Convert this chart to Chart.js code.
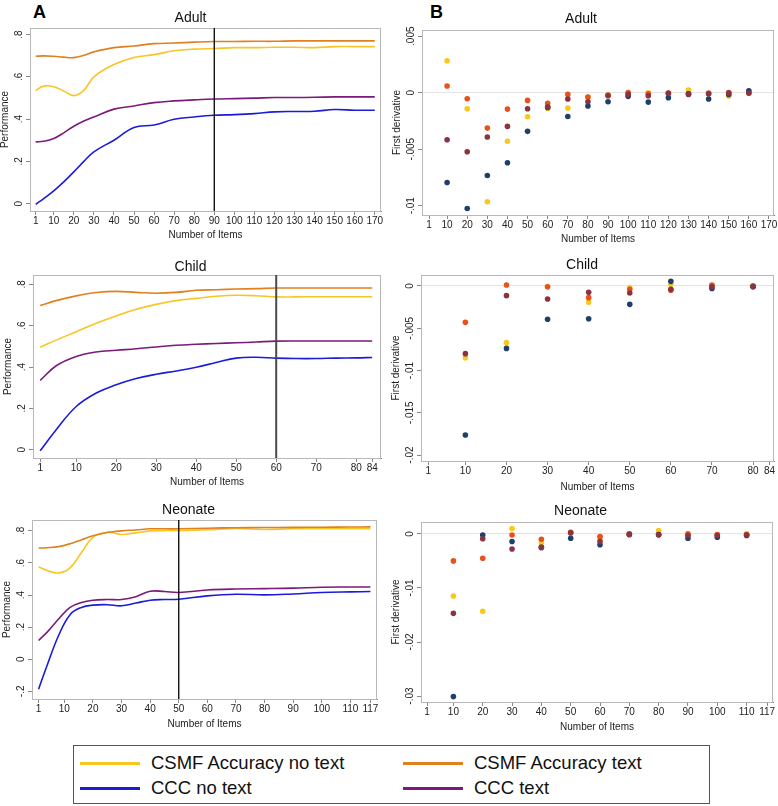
<!DOCTYPE html>
<html>
<head>
  <meta charset="UTF-8">
  <script src="https://cdn.jsdelivr.net/npm/chart.js"></script>
  <title>Performance by number of items</title>
  <style>
    body { margin: 0; background: #fff; font-family: "Liberation Sans", Arial, sans-serif; }
    #wrap { position: relative; width: 778px; height: 806px; overflow: hidden; }
    #wrap canvas { position: absolute; }
    .tag { position: absolute; font-weight: bold; font-size: 18px; line-height: 18px; color: #000; }
    .legend { position: absolute; left: 73px; top: 745px; width: 637px; height: 59px; border: 1px solid #555; box-sizing: border-box; }
    .item { position: absolute; font-size: 18.5px; line-height: 20px; color: #111; white-space: nowrap; }
    .item span { display: inline-block; width: 60px; height: 3px; vertical-align: middle; margin-right: 11px; position: relative; top: -1px; }
  </style>
</head>
<body>
  <div id="wrap">
    <div class="tag" style="left:33px; top:3px">A</div>
    <div class="tag" style="left:430px; top:3px">B</div>
    <canvas id="adultA"></canvas>
    <canvas id="adultB"></canvas>
    <canvas id="childA"></canvas>
    <canvas id="childB"></canvas>
    <canvas id="neonateA"></canvas>
    <canvas id="neonateB"></canvas>
    <div class="legend">
      <div class="item" style="left:6px; top:7px"><span style="background:#f6c623"></span>CSMF Accuracy no text</div>
      <div class="item" style="left:6px; top:32px"><span style="background:#1c1cd8"></span>CCC no text</div>
      <div class="item" style="left:329px; top:7px"><span style="background:#e0801f"></span>CSMF Accuracy text</div>
      <div class="item" style="left:329px; top:32px"><span style="background:#7b1a7b"></span>CCC text</div>
    </div>
  </div>
  <script>
    // ---- panel A: smoothed performance ----
    const adultItems = [1, 5, 10, 15, 20, 25, 30, 40, 50, 60, 70, 80, 90, 100, 110, 120, 130, 140, 150, 160, 170];
    const adultCsmfNoText = [0.536, 0.556, 0.553, 0.533, 0.511, 0.536, 0.600, 0.658, 0.691, 0.705, 0.723, 0.731, 0.734, 0.738, 0.738, 0.740, 0.740, 0.738, 0.743, 0.743, 0.743];
    const adultCsmfText = [0.697, 0.699, 0.697, 0.693, 0.691, 0.702, 0.718, 0.738, 0.746, 0.757, 0.760, 0.764, 0.767, 0.767, 0.768, 0.768, 0.770, 0.770, 0.770, 0.770, 0.770];
    const adultCccNoText = [-0.003, 0.024, 0.060, 0.103, 0.150, 0.200, 0.245, 0.300, 0.360, 0.372, 0.399, 0.410, 0.418, 0.421, 0.426, 0.434, 0.436, 0.437, 0.445, 0.442, 0.442];
    const adultCccText = [0.292, 0.295, 0.308, 0.335, 0.366, 0.391, 0.410, 0.447, 0.462, 0.478, 0.486, 0.491, 0.495, 0.497, 0.499, 0.502, 0.502, 0.503, 0.505, 0.505, 0.505];

    const childItems = [1, 5, 10, 15, 20, 25, 30, 35, 40, 45, 50, 55, 60, 65, 70, 75, 80, 84];
    const childCsmfNoText = [0.496, 0.530, 0.571, 0.612, 0.647, 0.679, 0.703, 0.721, 0.732, 0.742, 0.747, 0.745, 0.739, 0.739, 0.740, 0.740, 0.740, 0.740];
    const childCsmfText = [0.697, 0.721, 0.744, 0.760, 0.766, 0.761, 0.757, 0.761, 0.771, 0.774, 0.777, 0.779, 0.782, 0.782, 0.782, 0.782, 0.782, 0.782];
    const childCccNoText = [-0.005, 0.097, 0.209, 0.274, 0.314, 0.344, 0.365, 0.381, 0.399, 0.422, 0.443, 0.447, 0.443, 0.441, 0.441, 0.443, 0.444, 0.446];
    const childCccText = [0.335, 0.406, 0.451, 0.473, 0.481, 0.488, 0.497, 0.505, 0.510, 0.514, 0.517, 0.521, 0.525, 0.526, 0.526, 0.526, 0.526, 0.526];

    const neonateItems = [1, 4, 8, 12, 16, 20, 25, 30, 35, 40, 45, 50, 60, 70, 80, 90, 100, 110, 117];
    const neonateCsmfNoText = [0.576, 0.553, 0.538, 0.570, 0.665, 0.760, 0.792, 0.778, 0.788, 0.800, 0.802, 0.802, 0.807, 0.815, 0.809, 0.813, 0.813, 0.813, 0.813];
    const neonateCsmfText = [0.693, 0.695, 0.702, 0.720, 0.745, 0.770, 0.790, 0.800, 0.806, 0.813, 0.813, 0.813, 0.817, 0.820, 0.821, 0.822, 0.823, 0.824, 0.825];
    const neonateCccNoText = [-0.187, -0.037, 0.148, 0.278, 0.323, 0.337, 0.340, 0.333, 0.350, 0.368, 0.372, 0.374, 0.395, 0.405, 0.401, 0.407, 0.416, 0.420, 0.422];
    const neonateCccText = [0.117, 0.169, 0.251, 0.323, 0.354, 0.368, 0.372, 0.372, 0.390, 0.424, 0.422, 0.416, 0.432, 0.438, 0.440, 0.443, 0.449, 0.450, 0.450];

    // chosen number of items (vertical line)
    const adultCutoff = 90;
    const childCutoff = 60;
    const neonateCutoff = 50;

    // ---- panel B: first derivative ----
    const adultSteps = [10, 20, 30, 40, 50, 60, 70, 80, 90, 100, 110, 120, 130, 140, 150, 160];
    const adultDCsmfNoText = [0.00283, -0.00142, -0.00965, -0.0043, -0.00212, -0.0014, -0.00136, -0.0004, -0.0002, -0.0001, 0, -0.00005, 0.00024, -0.0001, -0.0003, 0];
    const adultDCsmfText = [0.0006, -0.00053, -0.00313, -0.00145, -0.00068, -0.00094, -0.00015, -0.00038, -0.0002, 0.00002, -0.0001, -0.00003, -0.0001, -0.00003, 0.00002, -0.00002];
    const adultDCccNoText = [-0.00794, -0.01024, -0.00732, -0.0062, -0.00342, -0.0013, -0.0021, -0.00118, -0.0008, -0.00032, -0.00083, -0.00044, -0.0001, -0.00056, -0.00015, 0.00018];
    const adultDCccText = [-0.00416, -0.00522, -0.00392, -0.00298, -0.00142, -0.00127, -0.00056, -0.0008, -0.00027, -0.00015, -0.00027, -0.00006, -0.00015, -0.0001, -0.00003, -0.00003];

    const childSteps = [10, 20, 30, 40, 50, 60, 70, 80];
    const childDCsmfNoText = [-0.00848, -0.0067, -0.0001, -0.00193, -0.0002, 0.0002, 0.00005, -0.00002];
    const childDCsmfText = [-0.0043, 0.00012, -0.0001, -0.00138, -0.0004, -0.0005, 0.0001, 0];
    const childDCccNoText = [-0.01763, -0.00738, -0.00394, -0.00387, -0.00217, 0.00055, -0.0003, -0.0001];
    const childDCccText = [-0.008, -0.00114, -0.00154, -0.00075, -0.00083, -0.0004, -0.0001, -0.00005];

    const neonateSteps = [10, 20, 30, 40, 50, 60, 70, 80, 90, 100, 110];
    const neonateDCsmfNoText = [-0.0115, -0.0143, 0.001, -0.0017, 0.0001, -0.0008, 0, 0.0006, -0.0002, -0.0001, 0];
    const neonateDCsmfText = [-0.005, -0.0045, -0.0002, -0.001, 0.0003, -0.0005, 0, -0.0001, 0, -0.0001, -0.0001];
    const neonateDCccNoText = [-0.0301, -0.0002, -0.0014, -0.0025, -0.0008, -0.002, -0.0001, -0.0001, -0.0008, -0.0006, -0.0003];
    const neonateDCccText = [-0.0147, -0.0009, -0.0028, -0.0025, 0.0002, -0.0014, -0.0001, -0.0002, -0.0003, -0.0003, -0.0002];

    // tick labels
    const adultXTicks = [1, 10, 20, 30, 40, 50, 60, 70, 80, 90, 100, 110, 120, 130, 140, 150, 160, 170];
    const childXTicks = [1, 10, 20, 30, 40, 50, 60, 70, 80, 84];
    const neonateXTicks = [1, 10, 20, 30, 40, 50, 60, 70, 80, 90, 100, 110, 117];
    const perfTicks = [0, 0.2, 0.4, 0.6, 0.8];
    const neonatePerfTicks = [-0.2, 0, 0.2, 0.4, 0.6, 0.8];
    const adultDerivTicks = [-0.01, -0.005, 0, 0.005];
    const childDerivTicks = [-0.02, -0.015, -0.01, -0.005, 0];
    const neonateDerivTicks = [-0.03, -0.02, -0.01, 0];

    Chart.defaults.font.family = '"Liberation Sans", Arial, sans-serif';
    Chart.defaults.color = '#222';

    // stata style: .8 instead of 0.8
    function stataLabel(v) {
      if (v === 0) return '0';
      return String(+v.toFixed(4)).replace(/^(-?)0\./, '$1.');
    }

    function pts(xs, ys) {
      return xs.map((x, i) => ({ x: x, y: ys[i] }));
    }

    function curve(xs, ys, color) {
      return { data: pts(xs, ys), borderColor: color, borderWidth: 1.6, pointRadius: 0, tension: 0.4, fill: false };
    }

    function dots(xs, ys, color) {
      return { data: pts(xs, ys), backgroundColor: color, borderColor: color, pointRadius: 2.8, pointBorderWidth: 0 };
    }

    // box around the plot region + the chosen-items line
    const framePlugin = {
      id: 'frame',
      beforeDatasetsDraw(chart) {
        const a = chart.chartArea, ctx = chart.ctx;
        ctx.save();
        ctx.strokeStyle = '#b8b8b8';
        ctx.lineWidth = 1;
        ctx.strokeRect(a.left + 0.5, a.top + 0.5, a.width - 1, a.height);
        ctx.restore();
      },
      afterDatasetsDraw(chart, args, opts) {
        if (opts.at == null) return;
        const a = chart.chartArea, ctx = chart.ctx;
        const x = chart.scales.x.getPixelForValue(opts.at);
        ctx.save();
        ctx.strokeStyle = opts.color;
        ctx.lineWidth = opts.width;
        ctx.beginPath();
        ctx.moveTo(x, a.top);
        ctx.lineTo(x, a.bottom);
        ctx.stroke();
        ctx.restore();
      }
    };

    function makePanel(p) {
      const cv = document.getElementById(p.id);
      cv.width = p.w;
      cv.height = p.h;
      cv.style.left = p.left + 'px';
      cv.style.top = p.top + 'px';
      const padTop = p.titleY - p.top - 7;
      const padBottom = p.area.t - p.top - 14 - padTop;
      const yW = p.area.l - p.left;
      const xH = p.top + p.h - p.area.b;
      return new Chart(cv, {
        type: p.type,
        data: { datasets: p.datasets },
        options: {
          responsive: false,
          animation: false,
          events: [],
          layout: { padding: { left: 0, top: 0, bottom: 0, right: p.left + p.w - p.area.r } },
          plugins: {
            legend: { display: false },
            tooltip: { enabled: false },
            title: {
              display: true, text: p.title, color: '#111',
              font: { size: 14, weight: 'normal', lineHeight: 1 },
              padding: { top: padTop, bottom: padBottom }
            },
            frame: { at: p.cutoff, color: p.cutColor || '#000', width: p.cutWidth || 1.3 }
          },
          scales: {
            x: {
              type: 'linear', min: p.xMin, max: p.xMax,
              grid: { drawOnChartArea: false, tickLength: 4, color: '#888' },
              border: { color: '#777' },
              ticks: { font: { size: 10, lineHeight: 1 }, padding: 1, minRotation: 0, maxRotation: 0, autoSkip: false, callback: v => String(v) },
              title: { display: true, text: 'Number of Items', font: { size: 10, lineHeight: 1.2 }, padding: 0 },
              afterBuildTicks: s => { s.ticks = p.xTicks.map(v => ({ value: v })); },
              afterFit: s => { s.height = xH; s.paddingLeft = 0; s.paddingRight = 0; }
            },
            y: {
              type: 'linear', min: p.yMin, max: p.yMax,
              grid: {
                drawOnChartArea: !!p.zeroLine, tickLength: 4, tickColor: '#888',
                color: c => (p.zeroLine && c.tick && c.tick.value === 0) ? '#e4e4e4' : 'rgba(0,0,0,0)'
              },
              border: { color: '#777' },
              ticks: { font: { size: 10, lineHeight: 1 }, padding: p.yTickPad, minRotation: 90, maxRotation: 90, crossAlign: 'center', callback: v => stataLabel(v) },
              title: { display: true, text: p.yTitle, font: { size: 10, lineHeight: 1.2 }, padding: { top: p.area.l - 24.5 - p.left - 6, bottom: 0 } },
              afterBuildTicks: s => { s.ticks = p.yTicks.map(v => ({ value: v })); },
              afterFit: s => { s.width = yW; s.paddingTop = 0; s.paddingBottom = 0; }
            }
          }
        },
        plugins: [framePlugin]
      });
    }

    const YELLOW = '#f6c623', ORANGE = '#e0801f', BLUE = '#1c1cd8', PURPLE = '#7b1a7b';
    const DOT_YELLOW = '#f8c81c', DOT_ORANGE = '#e8501c', DOT_NAVY = '#1f3f6b', DOT_MAROON = '#8a3442';

    makePanel({
      id: 'adultA', type: 'line', left: 0, top: 0, w: 388, h: 241,
      area: { l: 30, t: 28, r: 381, b: 211 }, titleY: 18, title: 'Adult', yTitle: 'Performance',
      xMin: -1.84, xMax: 173.1, yMin: -0.035, yMax: 0.831, xTicks: adultXTicks, yTicks: perfTicks, yTickPad: 2.8,
      cutoff: adultCutoff,
      datasets: [
        curve(adultItems, adultCsmfText, ORANGE),
        curve(adultItems, adultCsmfNoText, YELLOW),
        curve(adultItems, adultCccText, PURPLE),
        curve(adultItems, adultCccNoText, BLUE)
      ]
    });

    makePanel({
      id: 'adultB', type: 'scatter', left: 388, top: 0, w: 390, h: 245,
      area: { l: 422, t: 30, r: 774, b: 215 }, titleY: 19, title: 'Adult', yTitle: 'First derivative',
      xMin: -2.48, xMax: 172.5, yMin: -0.01082, yMax: 0.00555, xTicks: adultXTicks, yTicks: adultDerivTicks, yTickPad: -4.4,
      zeroLine: true,
      datasets: [
        dots(adultSteps, adultDCccText, DOT_MAROON),
        dots(adultSteps, adultDCccNoText, DOT_NAVY),
        dots(adultSteps, adultDCsmfText, DOT_ORANGE),
        dots(adultSteps, adultDCsmfNoText, DOT_YELLOW)
      ]
    });

    makePanel({
      id: 'childA', type: 'line', left: 0, top: 245, w: 388, h: 243,
      area: { l: 33, t: 275, r: 381, b: 458 }, titleY: 267, title: 'Child', yTitle: 'Performance',
      xMin: -0.8, xMax: 86.2, yMin: -0.04, yMax: 0.845, xTicks: childXTicks, yTicks: perfTicks, yTickPad: 2.8,
      cutoff: childCutoff, cutColor: '#4a4a4a', cutWidth: 2,
      datasets: [
        curve(childItems, childCsmfText, ORANGE),
        curve(childItems, childCsmfNoText, YELLOW),
        curve(childItems, childCccText, PURPLE),
        curve(childItems, childCccNoText, BLUE)
      ]
    });

    makePanel({
      id: 'childB', type: 'scatter', left: 388, top: 245, w: 390, h: 248,
      area: { l: 421, t: 275, r: 776, b: 461 }, titleY: 265, title: 'Child', yTitle: 'First derivative',
      xMin: -0.8, xMax: 85.1, yMin: -0.0207, yMax: 0.0013, xTicks: childXTicks, yTicks: childDerivTicks, yTickPad: -4.4,
      zeroLine: true,
      datasets: [
        dots(childSteps, childDCccText, DOT_MAROON),
        dots(childSteps, childDCccNoText, DOT_NAVY),
        dots(childSteps, childDCsmfText, DOT_ORANGE),
        dots(childSteps, childDCsmfNoText, DOT_YELLOW)
      ]
    });

    makePanel({
      id: 'neonateA', type: 'line', left: 0, top: 490, w: 388, h: 240,
      area: { l: 32, t: 520, r: 377, b: 699 }, titleY: 510, title: 'Neonate', yTitle: 'Performance',
      xMin: -1.3, xMax: 119.3, yMin: -0.248, yMax: 0.868, xTicks: neonateXTicks, yTicks: neonatePerfTicks, yTickPad: 1.2,
      cutoff: neonateCutoff,
      datasets: [
        curve(neonateItems, neonateCsmfText, ORANGE),
        curve(neonateItems, neonateCsmfNoText, YELLOW),
        curve(neonateItems, neonateCccText, PURPLE),
        curve(neonateItems, neonateCccNoText, BLUE)
      ]
    });

    makePanel({
      id: 'neonateB', type: 'scatter', left: 388, top: 494, w: 390, h: 239,
      area: { l: 421, t: 522, r: 773, b: 702 }, titleY: 511, title: 'Neonate', yTitle: 'First derivative',
      xMin: -1.05, xMax: 119, yMin: -0.0311, yMax: 0.0022, xTicks: neonateXTicks, yTicks: neonateDerivTicks, yTickPad: -1.6,
      zeroLine: true,
      datasets: [
        dots(neonateSteps, neonateDCccText, DOT_MAROON),
        dots(neonateSteps, neonateDCccNoText, DOT_NAVY),
        dots(neonateSteps, neonateDCsmfText, DOT_ORANGE),
        dots(neonateSteps, neonateDCsmfNoText, DOT_YELLOW)
      ]
    });
  </script>
</body>
</html>
